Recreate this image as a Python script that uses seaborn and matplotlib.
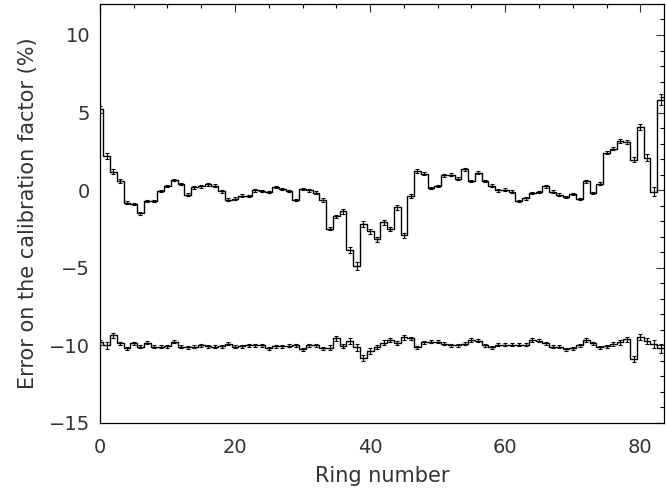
import numpy as np
import pandas as pd
import matplotlib
matplotlib.use("Agg")
import matplotlib.pyplot as plt
import seaborn as sns
from matplotlib.ticker import MultipleLocator

# ring numbers 0..83
rings = np.arange(84)

# upper curve: error on calibration factor (%)
upper = [5.2, 2.2, 1.2, 0.6, -0.8, -0.9, -1.5, -0.7, -0.7, -0.05,
         0.28, 0.65, 0.4, -0.28, 0.18, 0.24, 0.37, 0.3, -0.08, -0.6,
         -0.55, -0.35, -0.39, -0.02, -0.06, -0.11, 0.22, 0.09, -0.04, -0.63,
         0.09, -0.02, -0.15, -0.63, -2.47, -1.69, -1.36, -3.85, -4.89, -2.19,
         -2.66, -3.16, -2.08, -2.51, -1.1, -2.9, -0.39, 1.23, 1.06, 0.15,
         0.26, 0.95, 1.0, 0.74, 1.34, 0.58, 1.13, 0.58, 0.3, -0.02,
         0.04, -0.09, -0.7, -0.52, -0.19, -0.11, 0.24, -0.09, -0.28, -0.45,
         -0.24, -0.56, 0.56, -0.17, 0.41, 2.42, 2.68, 3.16, 3.12, 1.97,
         4.05, 2.1, -0.09, 5.82]
upper_err = [0.25, 0.2, 0.15, 0.12, 0.08, 0.08, 0.08, 0.08, 0.08, 0.08,
             0.08, 0.08, 0.08, 0.08, 0.08, 0.08, 0.08, 0.08, 0.08, 0.08,
             0.08, 0.08, 0.08, 0.08, 0.08, 0.08, 0.08, 0.08, 0.08, 0.08,
             0.08, 0.08, 0.08, 0.1, 0.12, 0.12, 0.15, 0.2, 0.25, 0.2,
             0.15, 0.15, 0.15, 0.15, 0.15, 0.15, 0.12, 0.12, 0.1, 0.08,
             0.08, 0.08, 0.08, 0.08, 0.08, 0.08, 0.08, 0.08, 0.08, 0.08,
             0.08, 0.08, 0.08, 0.08, 0.08, 0.08, 0.08, 0.08, 0.08, 0.08,
             0.08, 0.08, 0.08, 0.08, 0.1, 0.12, 0.12, 0.12, 0.12, 0.15,
             0.2, 0.2, 0.3, 0.35]

# lower curve (offset by -10 %)
lower = [-9.8, -10.0, -9.35, -9.85, -10.2, -9.87, -10.1, -9.83, -10.1, -10.1,
         -10.05, -9.75, -10.1, -10.13, -10.1, -10.0, -10.05, -10.1, -10.05, -9.9,
         -10.1, -10.05, -10.0, -9.98, -10.0, -10.2, -10.05, -10.05, -10.02, -10.0,
         -10.26, -10.0, -9.98, -10.2, -10.15, -9.55, -10.04, -9.7, -10.13, -10.8,
         -10.35, -10.1, -9.83, -9.65, -9.85, -9.48, -9.55, -10.13, -9.8, -9.76,
         -9.76, -9.9, -10.0, -10.0, -9.9, -9.65, -9.7, -9.98, -10.13, -9.95,
         -9.95, -9.95, -9.95, -9.95, -9.65, -9.7, -9.85, -10.09, -10.1, -10.26,
         -10.2, -10.0, -9.65, -9.87, -10.13, -10.05, -9.92, -9.8, -9.61, -10.9,
         -9.45, -9.7, -9.9, -10.2]
lower_err = [0.15, 0.25, 0.15, 0.1, 0.1, 0.1, 0.1, 0.1, 0.1, 0.1,
             0.1, 0.1, 0.1, 0.1, 0.1, 0.1, 0.1, 0.1, 0.1, 0.1,
             0.1, 0.1, 0.1, 0.1, 0.1, 0.1, 0.1, 0.1, 0.1, 0.1,
             0.1, 0.1, 0.1, 0.1, 0.15, 0.18, 0.15, 0.18, 0.2, 0.2,
             0.18, 0.15, 0.15, 0.15, 0.15, 0.15, 0.12, 0.12, 0.1, 0.1,
             0.1, 0.1, 0.1, 0.1, 0.1, 0.1, 0.1, 0.1, 0.1, 0.1,
             0.1, 0.1, 0.1, 0.1, 0.1, 0.1, 0.1, 0.1, 0.1, 0.1,
             0.1, 0.1, 0.1, 0.1, 0.1, 0.1, 0.12, 0.15, 0.18, 0.2,
             0.2, 0.2, 0.25, 0.3]

# step edges: each ring covers [n-0.5, n+0.5]
edges = np.append(rings - 0.5, rings[-1] + 0.5)
df = pd.DataFrame({
    "edge": edges,
    "upper": upper + [upper[-1]],
    "lower": lower + [lower[-1]],
})

sns.set_theme(style="white")
plt.rcParams["font.family"] = ["DejaVu Sans"]

fig = plt.figure(figsize=(6.66, 4.93), dpi=100)
ax = fig.add_axes([0.150, 0.142, 0.847, 0.850])

for col in ["upper", "lower"]:
    sns.lineplot(data=df, x="edge", y=col, ax=ax, color="black", lw=1.0,
                 drawstyle="steps-post", estimator=None, sort=False)

ax.errorbar(rings, upper, yerr=upper_err, fmt="none", ecolor="black",
            elinewidth=0.8, capsize=1.6, capthick=0.8)
ax.errorbar(rings, lower, yerr=lower_err, fmt="none", ecolor="black",
            elinewidth=0.8, capsize=1.6, capthick=0.8)

ax.set_xlim(0, 83.5)
ax.set_ylim(-15, 12)
ax.xaxis.set_major_locator(MultipleLocator(20))
ax.xaxis.set_minor_locator(MultipleLocator(5))
ax.yaxis.set_major_locator(MultipleLocator(5))
ax.yaxis.set_minor_locator(MultipleLocator(1))
ax.tick_params(which="both", direction="in", top=True, right=True,
               color="black", width=0.8)
ax.tick_params(which="major", length=6, labelsize=14, colors="#333333")
ax.tick_params(which="minor", length=3)
ax.tick_params(axis="x", which="major", pad=11)
ax.tick_params(axis="y", which="major", pad=7)

for sp in ax.spines.values():
    sp.set_color("black")
    sp.set_linewidth(0.9)

ax.set_xlabel("Ring number", fontsize=15, color="#333333", labelpad=6)
ax.set_ylabel("Error on the calibration factor (%)", fontsize=15,
              color="#333333", labelpad=8)

fig.savefig("out.png", dpi=100)
